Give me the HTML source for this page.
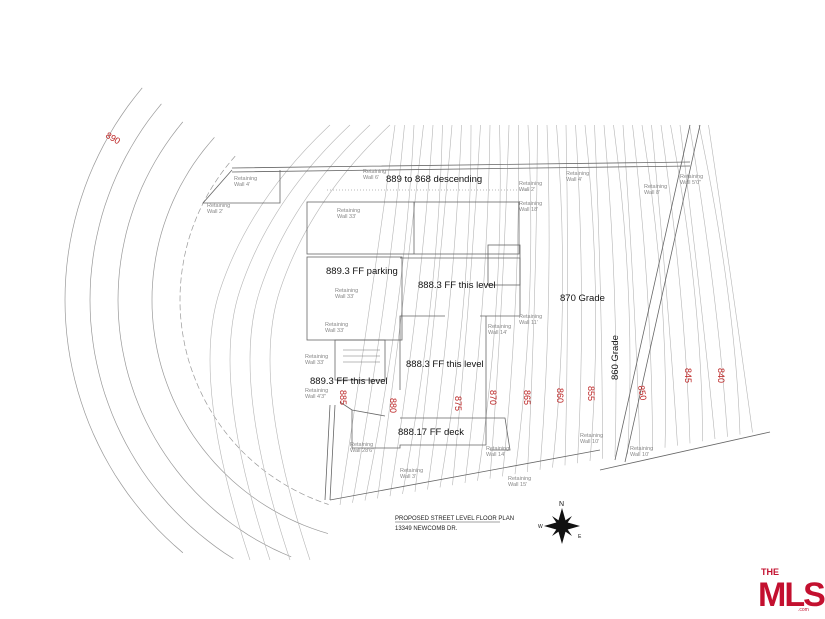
<!DOCTYPE html>
<html><head><meta charset="utf-8"><style>
html,body{margin:0;padding:0;background:#fff;}
svg{display:block;}
text{font-family:"Liberation Sans",sans-serif;}
.lb{font-size:9.5px;fill:#111;}
.rw{font-size:5.5px;fill:#888;}
.rd{font-size:9px;fill:#b22;}
</style></head><body>
<svg id="s" width="825" height="619" viewBox="0 0 825 619" xmlns="http://www.w3.org/2000/svg">
<rect width="825" height="619" fill="#fff"/>
<g id="arcs" fill="none" stroke="#999" stroke-width="0.7"></g>
<g id="cont" fill="none" stroke="#b5b5b5" stroke-width="0.6"></g>
<g fill="none" stroke="#666" stroke-width="0.8">
<path d="M232 168 L690 162 M232 172 L690 166"/>
<path d="M232 170 L203 203 L280 203 L280 170"/>
<path d="M600 470 L770 432 M330 500 L600 450"/>
<path d="M690 125 L615 460 M700 125 L625 462"/>
<rect x="307" y="202" width="212" height="52"/>
<line x1="414" y1="202" x2="414" y2="254"/>
<rect x="307" y="257" width="95" height="83"/>
<path d="M400 258 L520 258 L520 316 L480 316 M445 316 L400 316 L400 390"/>
<rect x="335" y="340" width="50" height="40"/>
<path d="M486 316 L486 418 L400 418 M340 402 L352 410 L385 416"/>
<path d="M352 410 L352 448 L400 448 L400 445 L486 445 L486 418"/>
<path d="M330 405 L325 500 M335 405 L330 500"/>
<path d="M486 418 L505 418 L510 450 L490 450"/>
<rect x="488" y="245" width="32" height="40"/>
</g>
<g stroke="#777" stroke-width="0.6">
<path d="M327 190 L530 190" stroke-dasharray="1 2"/>
<path d="M343 350 L380 350 M343 356 L380 356 M343 362 L380 362"/>
</g>
<text class="lb" x="386" y="182">889 to 868 descending</text>
<text class="lb" x="326" y="274">889.3 FF parking</text>
<text class="lb" x="418" y="288">888.3 FF this level</text>
<text class="lb" x="406" y="367">888.3 FF this level</text>
<text class="lb" x="310" y="384">889.3 FF this level</text>
<text class="lb" x="398" y="435">888.17 FF deck</text>
<text class="lb" x="560" y="301">870 Grade</text>
<text class="lb" transform="translate(618,380) rotate(-90)">860 Grade</text>
<text class="rd" transform="translate(105,137) rotate(30)">890</text>
<g class="rd">
<text transform="translate(340,390) rotate(90)">885</text>
<text transform="translate(390,398) rotate(90)">880</text>
<text transform="translate(455,396) rotate(90)">875</text>
<text transform="translate(490,390) rotate(90)">870</text>
<text transform="translate(524,390) rotate(90)">865</text>
<text transform="translate(557,388) rotate(90)">860</text>
<text transform="translate(588,386) rotate(90)">855</text>
<text transform="translate(638,386) rotate(80)">850</text>
<text transform="translate(685,368) rotate(90)">845</text>
<text transform="translate(718,368) rotate(90)">840</text>
</g>
<g class="rw">
<text x="234" y="180">Retaining</text><text x="234" y="186">Wall 4'</text>
<text x="207" y="207">Retaining</text><text x="207" y="213">Wall 2'</text>
<text x="363" y="173">Retaining</text><text x="363" y="179">Wall 6'</text>
<text x="337" y="212">Retaining</text><text x="337" y="218">Wall 33'</text>
<text x="335" y="292">Retaining</text><text x="335" y="298">Wall 33'</text>
<text x="325" y="326">Retaining</text><text x="325" y="332">Wall 33'</text>
<text x="305" y="358">Retaining</text><text x="305" y="364">Wall 33'</text>
<text x="305" y="392">Retaining</text><text x="305" y="398">Wall 4'3"</text>
<text x="488" y="328">Retaining</text><text x="488" y="334">Wall 14'</text>
<text x="519" y="318">Retaining</text><text x="519" y="324">Wall 11'</text>
<text x="519" y="205">Retaining</text><text x="519" y="211">Wall 18'</text>
<text x="519" y="185">Retaining</text><text x="519" y="191">Wall 2'</text>
<text x="566" y="175">Retaining</text><text x="566" y="181">Wall 4'</text>
<text x="644" y="188">Retaining</text><text x="644" y="194">Wall 8'</text>
<text x="680" y="178">Retaining</text><text x="680" y="184">Wall 5'0"</text>
<text x="350" y="446">Retaining</text><text x="350" y="452">Wall 28'6"</text>
<text x="400" y="472">Retaining</text><text x="400" y="478">Wall 3'</text>
<text x="486" y="450">Retaining</text><text x="486" y="456">Wall 14'</text>
<text x="508" y="480">Retaining</text><text x="508" y="486">Wall 15'</text>
<text x="580" y="437">Retaining</text><text x="580" y="443">Wall 10'</text>
<text x="630" y="450">Retaining</text><text x="630" y="456">Wall 10'</text>
</g>
<text x="395" y="520" font-family="Liberation Serif" font-size="6" fill="#222">PROPOSED STREET LEVEL FLOOR PLAN</text>
<line x1="395" y1="522" x2="500" y2="522" stroke="#444" stroke-width="0.5"/>
<text x="395" y="530" font-family="Liberation Serif" font-size="6" fill="#222">13349 NEWCOMB DR.</text>
<g transform="translate(562,526)">
<polygon points="0,-18 4,-4 18,0 4,4 0,18 -4,4 -18,0 -4,-4" fill="#111"/>
<polygon points="-10,-10 2,-2 10,10 -2,2" fill="#111"/>
<polygon points="10,-10 2,2 -10,10 -2,-2" fill="#111"/>
<text x="-3" y="-20" font-size="7" fill="#111">N</text>
<text x="16" y="12" font-size="5" fill="#111">E</text>
<text x="-24" y="2" font-size="5" fill="#111">W</text>
</g>
<g transform="translate(758,568)">
<text x="3" y="7" font-size="9" font-weight="bold" fill="#c3102f">THE</text>
<text x="0" y="38" font-size="34" font-weight="bold" fill="#c3102f" letter-spacing="-2">MLS</text>
<text x="40" y="43" font-size="5" fill="#c3102f">.com</text>
</g>
</svg>
<script>
var ns="http://www.w3.org/2000/svg";
var a=document.getElementById("arcs");
[330,305,277,243,215].forEach(function(r,i){
 var cx=395,cy=300;var pts=[];
 for(var ang=0;ang<=360;ang+=2){var rad=ang*Math.PI/180;var x=cx+r*Math.cos(rad),y=cy-r*Math.sin(rad);
  if(x<335&&y>(80+i*18)&&y<560)pts.push(x.toFixed(1)+" "+y.toFixed(1));}
 pts.sort(function(p,q){return parseFloat(p.split(" ")[1])-parseFloat(q.split(" ")[1]);});
 if(pts.length){var p=document.createElementNS(ns,"path");p.setAttribute("d","M"+pts.join(" L"));
  if(i==4){p.setAttribute("stroke-dasharray","6 3");}
  a.appendChild(p);}
});
var c=document.getElementById("cont");
for(var i=0;i<34;i++){
 var x0=395+i*9.5,x1=340+i*12.5;
 var p=document.createElementNS(ns,"path");
 var mx=(x0+x1)/2+ (i%3-1)*6+10;
 p.setAttribute("d","M"+x0+" 125 Q"+mx+" 300 "+x1+" "+(505-i*2.2));
 c.appendChild(p);
}
for(var j=0;j<4;j++){var p=document.createElementNS(ns,"path");
 p.setAttribute("d","M"+(330+j*20)+" 125 Q"+(250+j*20)+" 200 "+(220+j*20)+" 290 T"+(250+j*20)+" 560");c.appendChild(p);}
</script>
</body></html>
